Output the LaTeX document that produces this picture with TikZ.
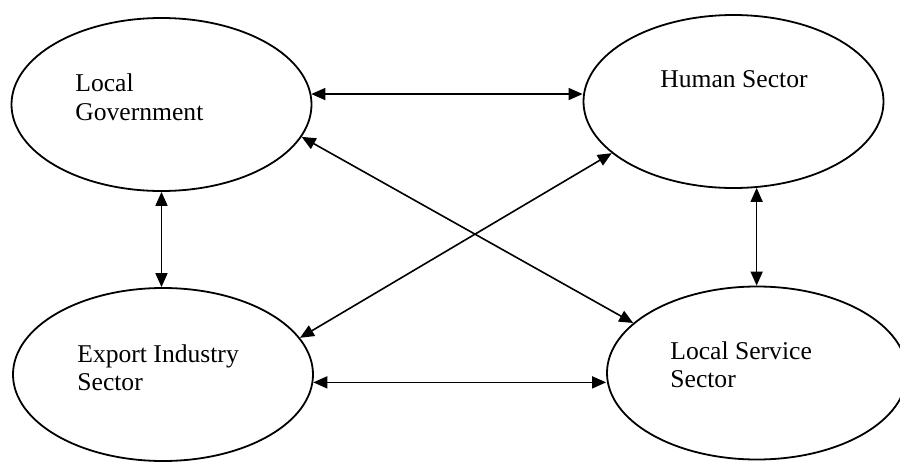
\documentclass[tikz,border=0pt]{standalone}
\usepackage{fontspec}
\setmainfont{Liberation Serif}
\usetikzlibrary{arrows.meta,shapes.geometric}
\begin{document}
\begin{tikzpicture}[x=0.5pt,y=-0.5pt,
  sector/.style={ellipse,draw,line width=0.9pt,minimum width=150pt,minimum height=86.5pt,inner sep=0pt},
  lbl/.style={anchor=base west,inner sep=0pt,font=\fontsize{12.8}{14.5}\selectfont},
  link/.style={line width=0.8pt,{Triangle[length=7pt,width=6pt]}-{Triangle[length=7pt,width=6pt]}}]
\useasboundingbox[fill=white] (0,0) rectangle (900,461);
\node[sector] (lg) at (161.5,104.5) {};
\node[sector] (hs) at (733.5,101.5) {};
\node[sector] (es) at (163,374.5) {};
\node[sector] (lss) at (757,373) {};
\node[lbl] (lg1) at (75,91) {Local};
\node[lbl] (lg2) at (75,120) {Government};
\node[lbl] (hs1) at (660,87) {Human Sector};
\node[lbl] (es1) at (77,362) {Export Industry};
\node[lbl] (es2) at (77,390) {Sector};
\node[lbl] (ls1) at (670,359) {Local Service};
\node[lbl] (ls2) at (670,387) {Sector};
\draw[link] (lg.4.4) -- (lg.4.4 -| hs.west);
\draw[link] (es.-3.26) -- (es.-3.26 -| lss.west);
\draw[link] (lg.south) -- (lg.south |- es.north);
\draw[link] (hs.-75.3) -- (hs.-75.3 |- lss.north);
\draw[link] (lg.-13.4) -- (lss.158.1);
\draw[link] (es.15.1) -- (hs.-157.85);
\end{tikzpicture}
\end{document}
